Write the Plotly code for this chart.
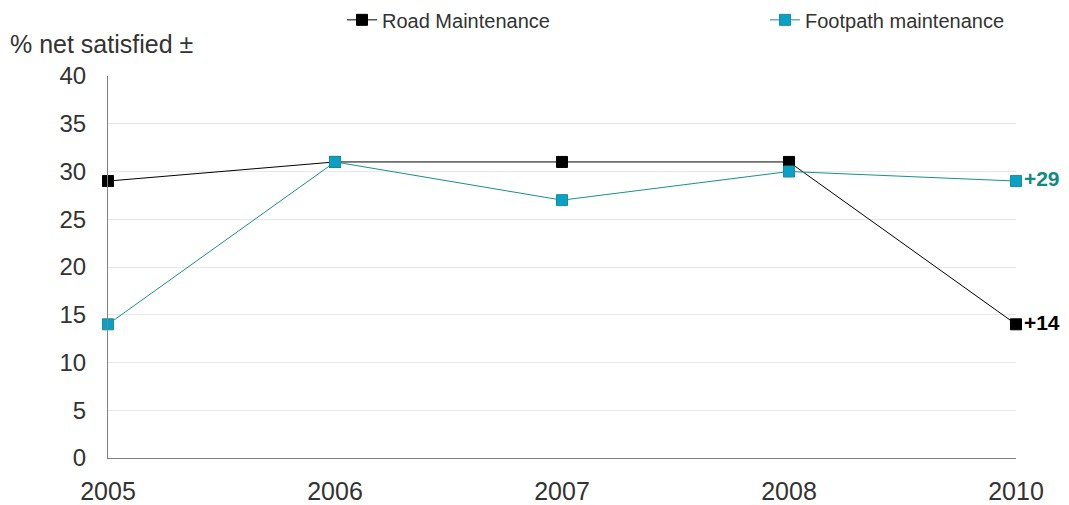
import plotly.graph_objects as go

years = ["2005", "2006", "2007", "2008", "2010"]
road = [29, 31, 31, 31, 14]
footpath = [14, 31, 27, 30, 29]
road_labels = ["", "", "", "", "+14"]
foot_labels = ["", "", "", "", "+29"]

FONT = "Liberation Sans, Arial, sans-serif"

fig = go.Figure()
fig.add_trace(go.Scatter(
    x=years, y=road, name="Road Maintenance", mode="lines+markers+text",
    line=dict(color="#000000", width=1),
    marker=dict(symbol="square", size=11, color="#000000", line=dict(color="#000000", width=1)),
    text=road_labels, textposition="middle right",
    textfont=dict(family=FONT, size=21, color="#000000", weight="bold"),
    cliponaxis=False, legend="legend",
))
fig.add_trace(go.Scatter(
    x=years, y=footpath, name="Footpath maintenance", mode="lines+markers+text",
    line=dict(color="#1a8f8f", width=1),
    marker=dict(symbol="square", size=11, color="#0aa0c8", line=dict(color="#1a8f8f", width=1)),
    text=foot_labels, textposition="middle right",
    textfont=dict(family=FONT, size=21, color="#128a80", weight="bold"),
    cliponaxis=False, legend="legend2",
))

fig.add_annotation(
    text="% net satisfied ±", xref="paper", yref="paper", x=-0.110, y=1.084,
    xanchor="left", yanchor="middle", showarrow=False,
    font=dict(family=FONT, size=25, color="#333333"),
)

leg_common = dict(
    orientation="h", yanchor="middle", y=1.147,
    font=dict(family=FONT, size=20, color="#333333"),
    bgcolor="rgba(0,0,0,0)", itemwidth=30,
)

fig.update_layout(
    width=1061, height=497,
    margin=dict(l=100, r=53, t=68, b=47, autoexpand=False),
    paper_bgcolor="white", plot_bgcolor="white",
    font=dict(family=FONT, color="#333333"),
    showlegend=True,
    legend=dict(x=(342 - 108) / 908, xanchor="left", **leg_common),
    legend2=dict(x=(765 - 108) / 908, xanchor="left", **leg_common),
    xaxis=dict(
        type="category", range=[0, 4], showgrid=False, showline=True,
        linecolor="#808080", linewidth=1, ticks="",
        tickfont=dict(family=FONT, size=25, color="#333333"),
        zeroline=False, ticklabelstandoff=11, automargin=False,
    ),
    yaxis=dict(
        range=[0, 40], dtick=5, showgrid=True, gridcolor="#e8e8e8", gridwidth=1,
        showline=True, linecolor="#808080", linewidth=1, ticks="",
        tickfont=dict(family=FONT, size=24, color="#333333"),
        zeroline=False, ticklabelstandoff=16, automargin=False,
    ),
)

fig.write_html("out.html")
